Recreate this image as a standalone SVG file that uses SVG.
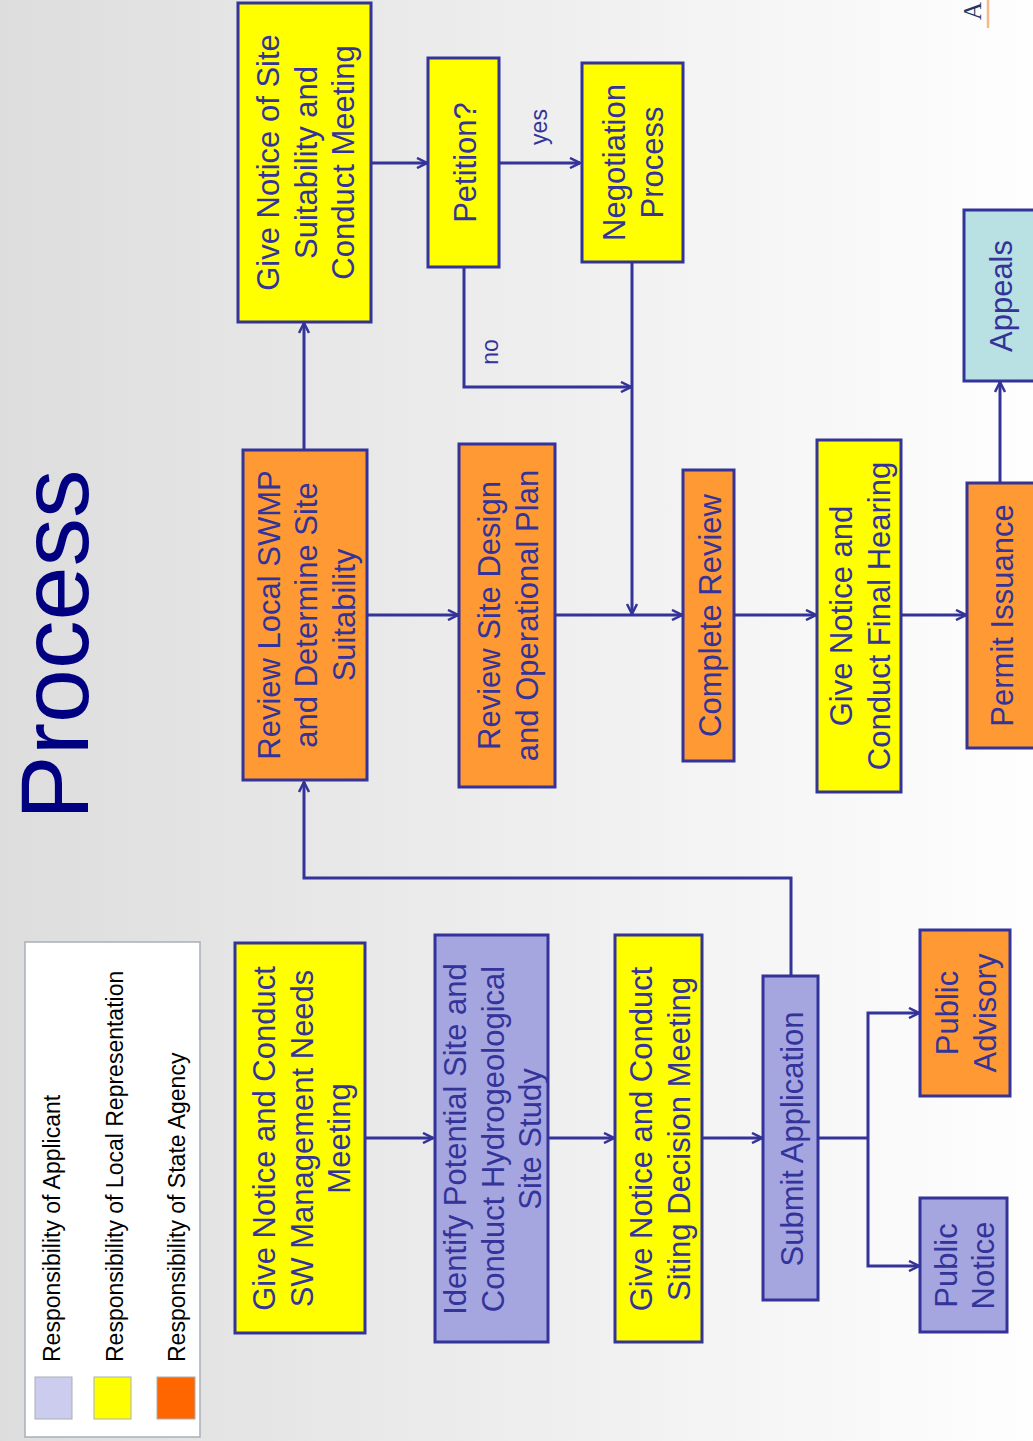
<svg xmlns="http://www.w3.org/2000/svg" width="1033" height="1441" viewBox="0 0 1033 1441">
<defs>
<linearGradient id="bg" x1="0" y1="0" x2="1" y2="0">
<stop offset="0" stop-color="#dddddd"/>
<stop offset="1" stop-color="#fefefe"/>
</linearGradient>
<marker id="arr" viewBox="0 0 12 12" refX="11" refY="6" markerWidth="12" markerHeight="12" markerUnits="userSpaceOnUse" orient="auto">
<path d="M1,1 L11,6 L1,11" fill="none" stroke="#333399" stroke-width="2.5"/>
</marker>
<style>
.box{stroke:#333399;stroke-width:3}
.y{fill:#ffff00}
.o{fill:#ff9933}
.p{fill:#a5a5e0}
.t{fill:#b9e0e3}
.lbl{font-family:"Liberation Sans",Arial,sans-serif;font-size:31px;fill:#333399;text-anchor:middle}
.leg{font-family:"Liberation Sans",Arial,sans-serif;font-size:23px;fill:#000000}
.small{font-family:"Liberation Sans",Arial,sans-serif;font-size:23px;fill:#333399;text-anchor:middle}
.conn{fill:none;stroke:#333399;stroke-width:3}
</style>
</defs>
<rect x="0" y="0" width="1033" height="1441" fill="url(#bg)"/>

<text transform="translate(88,820) rotate(-90)" font-family="'Liberation Sans',Arial,sans-serif" font-size="97" fill="#000080">Process</text>

<g id="legend">
<rect x="25" y="942" width="175" height="495" fill="#ffffff" stroke="#a8b0b8" stroke-width="1.5"/>
<rect x="35" y="1377" width="37" height="42" fill="#ccccee" stroke="#a8b0b8" stroke-width="1"/>
<rect x="94" y="1377" width="37" height="42" fill="#ffff00" stroke="#a8b0b8" stroke-width="1"/>
<rect x="157" y="1377" width="38" height="42" fill="#ff6600" stroke="#a8b0b8" stroke-width="1"/>
<text class="leg" transform="translate(60,1362) rotate(-90)">Responsibility of Applicant</text>
<text class="leg" transform="translate(123,1362) rotate(-90)">Responsibility of Local Representation</text>
<text class="leg" transform="translate(185,1362) rotate(-90)">Responsibility of State Agency</text>
</g>

<g id="connectors">
<path class="conn" d="M366,1138 H433" marker-end="url(#arr)"/>
<path class="conn" d="M549,1138 H614" marker-end="url(#arr)"/>
<path class="conn" d="M703,1138 H762" marker-end="url(#arr)"/>
<path class="conn" d="M818,1138 H868"/>
<path class="conn" d="M868,1138 V1013 H919" marker-end="url(#arr)"/>
<path class="conn" d="M868,1138 V1266 H919" marker-end="url(#arr)"/>
<path class="conn" d="M791,976 V878 H304 V782" marker-end="url(#arr)"/>
<path class="conn" d="M304,450 V323" marker-end="url(#arr)"/>
<path class="conn" d="M367,615 H458" marker-end="url(#arr)"/>
<path class="conn" d="M555,615 H682" marker-end="url(#arr)"/>
<path class="conn" d="M632,262 V614" marker-end="url(#arr)"/>
<path class="conn" d="M464,267 V387 H631" marker-end="url(#arr)"/>
<path class="conn" d="M371,163 H427" marker-end="url(#arr)"/>
<path class="conn" d="M500,163 H580" marker-end="url(#arr)"/>
<path class="conn" d="M734,615 H816" marker-end="url(#arr)"/>
<path class="conn" d="M901,615 H966" marker-end="url(#arr)"/>
<path class="conn" d="M1000,483 V382" marker-end="url(#arr)"/>
<text class="small" transform="translate(498,352) rotate(-90)">no</text>
<text class="small" transform="translate(547,127) rotate(-90)">yes</text>
</g>

<g id="n-give-notice-suitability">
<rect class="box y" x="238" y="3" width="133" height="319"/>
<text class="lbl" transform="translate(304.5,162.5) rotate(-90)"><tspan x="0" y="-25.5">Give Notice of Site</tspan><tspan x="0" y="12">Suitability and</tspan><tspan x="0" y="49.5">Conduct Meeting</tspan></text>
</g>
<g id="n-petition">
<rect class="box y" x="428" y="58" width="71" height="209"/>
<text class="lbl" transform="translate(463.5,162.5) rotate(-90)"><tspan x="0" y="12">Petition?</tspan></text>
</g>
<g id="n-negotiation">
<rect class="box y" x="582" y="63" width="101" height="199"/>
<text class="lbl" transform="translate(632,162.5) rotate(-90)"><tspan x="0" y="-6.75">Negotiation</tspan><tspan x="0" y="30.75">Process</tspan></text>
</g>
<g id="n-review-local">
<rect class="box o" x="243" y="450" width="124" height="330"/>
<text class="lbl" transform="translate(305,615) rotate(-90)"><tspan x="0" y="-25.5">Review Local SWMP</tspan><tspan x="0" y="12">and Determine Site</tspan><tspan x="0" y="49.5">Suitability</tspan></text>
</g>
<g id="n-review-design">
<rect class="box o" x="459" y="444" width="96" height="343"/>
<text class="lbl" transform="translate(507,615.5) rotate(-90)"><tspan x="0" y="-6.75">Review Site Design</tspan><tspan x="0" y="30.75">and Operational Plan</tspan></text>
</g>
<g id="n-complete-review">
<rect class="box o" x="683" y="470" width="51" height="291"/>
<text class="lbl" transform="translate(708.5,615.5) rotate(-90)"><tspan x="0" y="12">Complete Review</tspan></text>
</g>
<g id="n-final-hearing">
<rect class="box y" x="817" y="440" width="84" height="352"/>
<text class="lbl" transform="translate(859,616) rotate(-90)"><tspan x="0" y="-6.75">Give Notice and</tspan><tspan x="0" y="30.75">Conduct Final Hearing</tspan></text>
</g>
<g id="n-permit">
<rect class="box o" x="967" y="483" width="100" height="265"/>
<text class="lbl" transform="translate(1001,615.5) rotate(-90)"><tspan x="0" y="12">Permit Issuance</tspan></text>
</g>
<g id="n-appeals">
<rect class="box t" x="964" y="210" width="100" height="171"/>
<text class="lbl" transform="translate(1000,296) rotate(-90)"><tspan x="0" y="12">Appeals</tspan></text>
</g>
<g id="n-needs-meeting">
<rect class="box y" x="235" y="943" width="130" height="390"/>
<text class="lbl" transform="translate(300.5,1138.5) rotate(-90)"><tspan x="0" y="-25.5">Give Notice and Conduct</tspan><tspan x="0" y="12">SW Management Needs</tspan><tspan x="0" y="49.5">Meeting</tspan></text>
</g>
<g id="n-identify-site">
<rect class="box p" x="435" y="935" width="113" height="407"/>
<text class="lbl" transform="translate(491.5,1139) rotate(-90)"><tspan x="0" y="-25.5">Identify Potential Site and</tspan><tspan x="0" y="12">Conduct Hydrogeological</tspan><tspan x="0" y="49.5">Site Study</tspan></text>
</g>
<g id="n-siting-decision">
<rect class="box y" x="615" y="935" width="87" height="407"/>
<text class="lbl" transform="translate(659,1139) rotate(-90)"><tspan x="0" y="-6.75">Give Notice and Conduct</tspan><tspan x="0" y="30.75">Siting Decision Meeting</tspan></text>
</g>
<g id="n-submit">
<rect class="box p" x="763" y="976" width="55" height="324"/>
<text class="lbl" transform="translate(790.5,1139) rotate(-90)"><tspan x="0" y="12">Submit Application</tspan></text>
</g>
<g id="n-public-advisory">
<rect class="box o" x="920" y="930" width="90" height="166"/>
<text class="lbl" transform="translate(965,1013) rotate(-90)"><tspan x="0" y="-6.75">Public</tspan><tspan x="0" y="30.75">Advisory</tspan></text>
</g>
<g id="n-public-notice">
<rect class="box p" x="920" y="1198" width="87" height="134"/>
<text class="lbl" transform="translate(963.5,1265.5) rotate(-90)"><tspan x="0" y="-6.75">Public</tspan><tspan x="0" y="30.75">Notice</tspan></text>
</g>

<g id="corner">
<text transform="translate(981,20) rotate(-90)" font-family="'Liberation Serif','Times New Roman',serif" font-size="25" fill="#1f3864">A</text>
<line x1="988" y1="0" x2="988" y2="28" stroke="#f7b98a" stroke-width="2.5"/>
</g>
</svg>
